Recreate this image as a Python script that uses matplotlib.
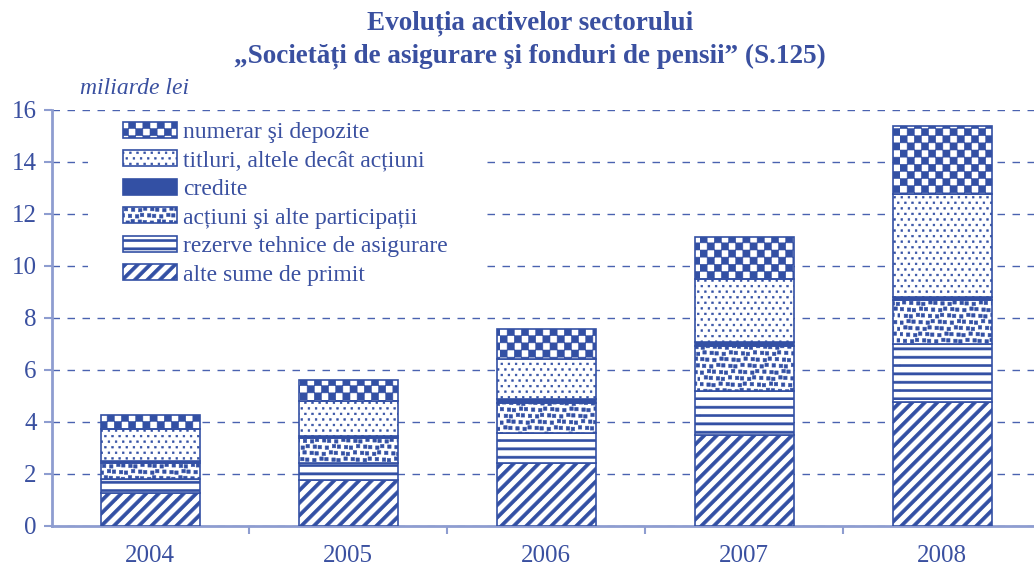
import numpy as np
import matplotlib
matplotlib.use('Agg')
import matplotlib.pyplot as plt
from matplotlib import hatch as mhatch
from matplotlib.path import Path
from matplotlib.patches import Rectangle

#%% Donnees (miliarde lei)

years = ['2004', '2005', '2006', '2007', '2008']
alte_sume = [1.26, 1.77, 2.41, 3.49, 4.78]
rezerve = [0.54, 0.64, 1.15, 1.71, 2.21]
actiuni = [0.62, 0.96, 1.18, 1.74, 1.70]
credite = [0.08, 0.10, 0.13, 0.13, 0.11]
titluri = [1.23, 1.35, 1.54, 2.42, 3.97]
numerar = [0.54, 0.80, 1.16, 1.61, 2.61]

labels = ['alte sume de primit', 'rezerve tehnice de asigurare',
          'acțiuni şi alte participații', 'credite',
          'titluri, altele decât acțiuni', 'numerar şi depozite']

BLUE = '#3350a4'
TXT = '#3a50a0'
SPINE = '#8e9dd0'
GRID = '#4a62b0'


#%% Motifs de hachures (tuile = 1 pouce)

def square(x, y, s):
    return [(x, y), (x + s, y), (x + s, y + s), (x, y + s)]


class PolyHatch(mhatch.HatchPatternBase):
    key = ''

    def __init__(self, hatch, density):
        self.polys = self.shapes() if self.key in hatch else []
        self.num_vertices = 5 * len(self.polys)

    def set_vertices_and_codes(self, vertices, codes):
        for i, p in enumerate(self.polys):
            vertices[5*i:5*i+4] = p
            vertices[5*i+4] = p[0]
            codes[5*i] = Path.MOVETO
            codes[5*i+1:5*i+4] = Path.LINETO
            codes[5*i+4] = Path.CLOSEPOLY


class Checker(PolyHatch):
    key = 'x'
    def shapes(self):
        n = 14
        return [square(i/n, j/n, 1/n) for i in range(n) for j in range(n)
                if (i + j) % 2 == 0]


class Diag(PolyHatch):
    key = '/'
    def shapes(self):
        n, w = 8, 0.045
        return [[(k/n, 0), (k/n + w, 0), (k/n + w + 1, 1), (k/n + 1, 1)]
                for k in range(-n, n)]


class Horiz(PolyHatch):
    key = '-'
    def shapes(self):
        n, t = 12, 0.022
        return [[(0, j/n), (1, j/n), (1, j/n + t), (0, j/n + t)] for j in range(n)]


class Dots(PolyHatch):
    key = '.'
    def shapes(self):
        nc, nr, s = 14, 18, 0.017
        return [square((i + 0.5*(j % 2) + 0.25)/nc - s/2, (j + 0.5)/nr - s/2, s)
                for i in range(nc) for j in range(nr)]


class Squares(PolyHatch):
    key = 'o'
    def shapes(self):
        n, s = 16, 0.034
        out = []
        for i in range(n):
            for j in range(n):
                dx = ((i*2 + j*3) % 5 - 2) * 0.07
                dy = ((i*3 + j) % 4 - 1.5) * 0.08
                out.append(square((i + 0.5*(j % 2) + 0.3 + dx)/n - s/2,
                                  (j + 0.5 + dy)/n - s/2, s))
        return out


mhatch._hatch_types = [Checker, Diag, Horiz, Dots, Squares]

plt.rcParams['font.family'] = ['Liberation Serif', 'DejaVu Serif']
plt.rcParams['hatch.linewidth'] = 0.4
plt.rcParams['hatch.color'] = BLUE


#%% Figure

fig = plt.figure(figsize=(10.34, 5.69), dpi=100)
ax = fig.add_axes([52/1034, 43/569, 989/1034, 416/569])

series = [alte_sume, rezerve, actiuni, credite, titluri, numerar]
hatches = ['/', '-', 'o', None, '.', 'x']
x = np.arange(len(years))
bottom = np.zeros(len(years))
handles = []
for vals, lab, h in zip(series, labels, hatches):
    b = ax.bar(x, vals, 0.5, bottom=bottom, color=BLUE if h is None else 'white',
               edgecolor=BLUE, hatch=h, linewidth=1.2, label=lab, zorder=3)
    handles.append(b)
    bottom += np.array(vals)

ax.set_xlim(-0.495, 4.5)
ax.set_ylim(0, 16)
ax.set_yticks(np.arange(0, 17, 2))
ax.set_xticks(x)
ax.set_xticklabels(years)
ax.set_xticks(x[:-1] + 0.5, minor=True)

ax.set_axisbelow(True)
ax.yaxis.grid(True, color=GRID, lw=1.0, ls=(0, (5.4, 5.4)))
for s in ['top', 'right']:
    ax.spines[s].set_visible(False)
for s in ['left', 'bottom']:
    ax.spines[s].set_color(SPINE)
    ax.spines[s].set_linewidth(2)

ax.tick_params(axis='y', length=6, width=1.5, color=SPINE, labelsize=18,
               labelcolor=TXT, pad=5)
ax.tick_params(axis='x', which='major', length=0, labelsize=18,
               labelcolor=TXT, pad=14)
ax.tick_params(axis='x', which='minor', length=6, width=1.5, color=SPINE)

# cache blanc derriere la legende
ax.add_patch(Rectangle((0.0364, 0.58), 0.4034, 0.405, transform=ax.transAxes,
                       facecolor='white', edgecolor='none', zorder=1))

leg = ax.legend(handles[::-1], labels[::-1], loc='upper left',
                bbox_to_anchor=(123/1034, 1 - 122/569),
                bbox_transform=fig.transFigure, frameon=False, fontsize=17,
                handlelength=2.3, handleheight=0.65, handletextpad=0.25,
                labelspacing=0.31, borderpad=0, borderaxespad=0)
for t in leg.get_texts():
    t.set_color(TXT)

fig.text(530/1034, 1 - 23/569, 'Evoluția activelor sectorului', ha='center',
         va='center', fontsize=19.5, fontweight='bold', color=TXT)
fig.text(530/1034, 1 - 56/569,
         '„Societăți de asigurare şi fonduri de pensii” (S.125)', ha='center',
         va='center', fontsize=19.5, fontweight='bold', color=TXT)
fig.text(80/1034, 1 - 88/569, 'miliarde lei', ha='left', va='center',
         fontsize=17, style='italic', color=TXT)

fig.savefig('out.png', dpi=100)
